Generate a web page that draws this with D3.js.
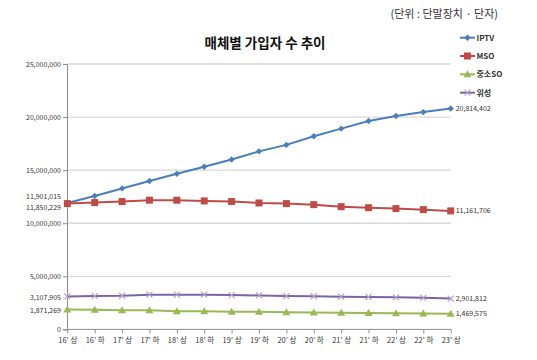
<!DOCTYPE html>
<html><head><meta charset="utf-8">
<script src="https://cdn.jsdelivr.net/npm/d3@7"></script>
<style>
body{margin:0;background:#fff;}
text{font-family:"Noto Sans CJK KR","Noto Sans",sans-serif;}
</style></head>
<body><svg id="c" width="537" height="360"></svg>
<script>
const categories = ["16' 상","16' 하","17' 상","17' 하","18' 상","18' 하","19' 상","19' 하","20' 상","20' 하","21' 상","21' 하","22' 상","22' 하","23' 상"];
const seriesNames = ["IPTV","MSO","중소SO","위성"];
const iptv = [11901015,12570000,13280000,13980000,14660000,15320000,16000000,16770000,17380000,18200000,18910000,19630000,20100000,20470000,20814402];
const mso = [11850229,11950000,12040000,12170000,12170000,12100000,12040000,11910000,11850000,11750000,11560000,11460000,11380000,11280000,11161706];
const smallSO = [1871269,1840000,1810000,1810000,1720000,1720000,1660000,1660000,1620000,1600000,1560000,1540000,1520000,1500000,1469575];
const satellite = [3107905,3140000,3170000,3270000,3270000,3270000,3230000,3200000,3140000,3120000,3080000,3050000,3020000,2970000,2901812];
const yTicks = [0,5000000,10000000,15000000,20000000,25000000];
const title = "매체별 가입자 수 추이";
const unitNote = "(단위 : 단말장치 · 단자)";

const colors = ["#4a7ebb","#be4b48","#98b954","#7f63a1"];
const markerColors = ["#4a7ebb","#be4b48","#98b954","#b3a2cc"];
const markers = ["diamond","square","triangle","x"];
const data = [iptv, mso, smallSO, satellite];

const svg = d3.select("#c");
const fmt = d3.format(",");
const x = d3.scalePoint().domain(categories).range([67.3, 450.7]);
const y = d3.scaleLinear().domain([0,25000000]).range([329.4, 64]);

// gridlines
svg.append("g").selectAll("line").data(yTicks.filter(d=>d>0)).join("line")
  .attr("x1",67).attr("x2",451).attr("y1",d=>y(d)).attr("y2",d=>y(d))
  .attr("stroke","#d9d9d9").attr("stroke-width",1.3);

// y axis
const ya = svg.append("g").attr("transform","translate(67,0)")
  .call(d3.axisLeft(y).tickValues(yTicks).tickSize(4).tickFormat(fmt));
ya.select(".domain").attr("stroke","#8c8c8c");
ya.selectAll(".tick line").attr("stroke","#8c8c8c");
ya.selectAll(".tick text").attr("font-size",7).attr("fill","#333").attr("x",-6);

// x axis
const xa = svg.append("g").attr("transform","translate(0,329.4)")
  .call(d3.axisBottom(x).tickSize(4));
xa.select(".domain").attr("stroke","#8c8c8c").attr("d","M67,0H451");
xa.selectAll(".tick line").attr("stroke","#8c8c8c");
xa.selectAll(".tick text").attr("font-size",7.5).attr("fill","#333").attr("y",8);

const line = d3.line().x((d,i)=>x(categories[i])).y(d=>y(d));

function drawMarker(g, type, cx, cy, color){
  if(type==="diamond"){
    g.append("path").attr("d",`M${cx},${cy-3.2}L${cx+3.2},${cy}L${cx},${cy+3.2}L${cx-3.2},${cy}Z`).attr("fill",color);
  } else if(type==="square"){
    g.append("rect").attr("x",cx-3.5).attr("y",cy-3.5).attr("width",7).attr("height",7).attr("fill",color);
  } else if(type==="triangle"){
    g.append("path").attr("d",`M${cx},${cy-4}L${cx+4},${cy+3}L${cx-4},${cy+3}Z`).attr("fill",color);
  } else {
    g.append("path").attr("d",`M${cx-3},${cy-3}L${cx+3},${cy+3}M${cx-3},${cy+3}L${cx+3},${cy-3}`).attr("stroke",color).attr("stroke-width",1.2);
  }
}

data.forEach((vals,si)=>{
  const g = svg.append("g");
  g.append("path").datum(vals).attr("d",line).attr("fill","none")
    .attr("stroke",colors[si]).attr("stroke-width",2);
  vals.forEach((v,i)=>drawMarker(g, markers[si], x(categories[i]), y(v), markerColors[si]));
  g.append("text").attr("x",x(categories[categories.length-1])+5).attr("y",y(vals[vals.length-1])+2.5)
    .attr("font-size",7).attr("fill","#333").text(fmt(vals[vals.length-1]));
});

// start labels (left of axis)
const startOffsets = [-7, 3.5, 1, 1];
data.forEach((vals,si)=>{
  svg.append("text").attr("x",61).attr("y",y(vals[0])+startOffsets[si]+2.5)
    .attr("text-anchor","end").attr("font-size",7).attr("fill","#333").text(fmt(vals[0]));
});

// legend
const legY = [37.7,56,74.3,92.7];
seriesNames.forEach((n,si)=>{
  const g = svg.append("g");
  g.append("line").attr("x1",460).attr("x2",475).attr("y1",legY[si]).attr("y2",legY[si])
    .attr("stroke",colors[si]).attr("stroke-width",2);
  drawMarker(g, markers[si], 467.5, legY[si], markerColors[si]);
  g.append("text").attr("x",476.5).attr("y",legY[si]+3).attr("font-size",8).attr("font-weight","bold")
    .attr("fill","#333").text(n);
});

// title
svg.append("text").attr("x",265).attr("y",48).attr("text-anchor","middle")
  .attr("font-size",13.5).attr("font-weight","bold").attr("fill","#111").text(title);
svg.append("text").attr("x",498).attr("y",18).attr("text-anchor","end")
  .attr("font-size",11).attr("fill","#333").text(unitNote);
</script></body></html>
